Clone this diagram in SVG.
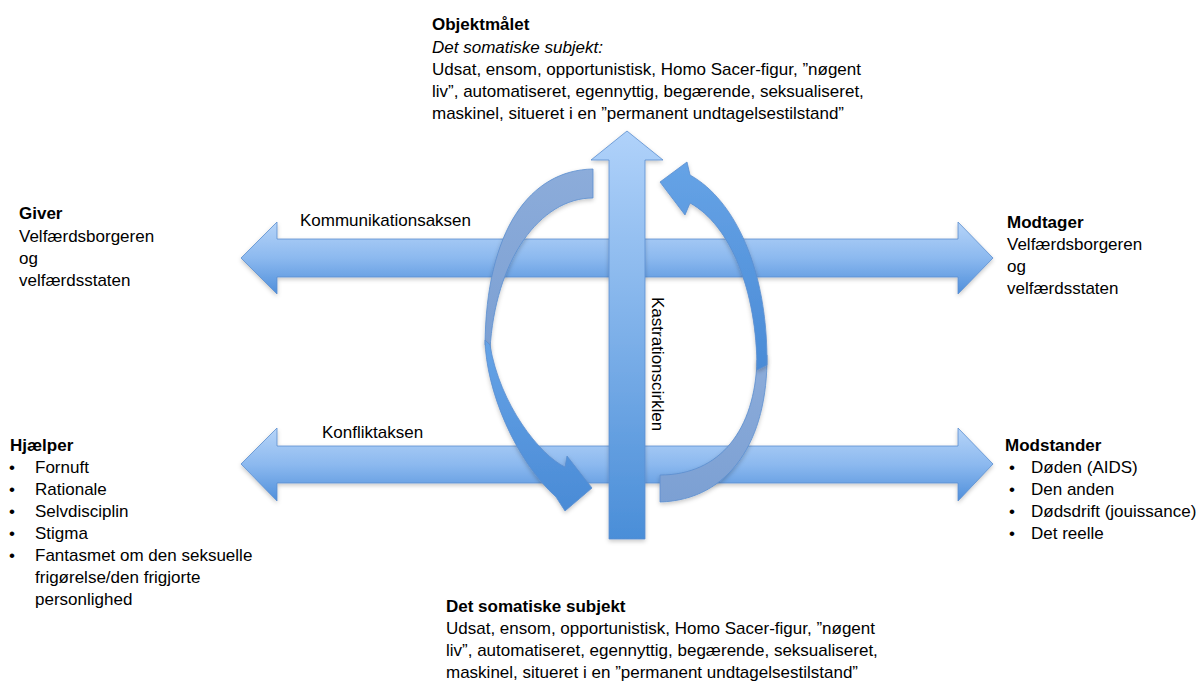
<svg xmlns="http://www.w3.org/2000/svg" width="1196" height="682" viewBox="0 0 1196 682">
<style>
  text { font-family: "Liberation Sans", Arial, sans-serif; font-size: 17px; fill: #000; }
  .b { font-weight: bold; }
  .i { font-style: italic; }
  .arrow { stroke: #5a8ecf; stroke-width: 0.8; filter: url(#sh); }
</style>
<defs>
  <linearGradient id="hg" x1="0" y1="0" x2="0" y2="1">
    <stop offset="0" stop-color="#b6d4f8"/>
    <stop offset="0.5" stop-color="#8cb9ef"/>
    <stop offset="1" stop-color="#4f8fdb"/>
  </linearGradient>
  <linearGradient id="vg" x1="0" y1="0" x2="0" y2="1">
    <stop offset="0" stop-color="#b0d2fa"/>
    <stop offset="1" stop-color="#4a8ed8"/>
  </linearGradient>
  <linearGradient id="fg" x1="0" y1="0" x2="0" y2="1">
    <stop offset="0" stop-color="#66a3e6"/>
    <stop offset="1" stop-color="#4a8bd6"/>
  </linearGradient>
  <linearGradient id="bg" x1="0" y1="0" x2="0" y2="1">
    <stop offset="0" stop-color="#8cacda"/>
    <stop offset="1" stop-color="#7ca0d3"/>
  </linearGradient>
  <filter id="sh" x="-10%" y="-10%" width="120%" height="130%">
    <feDropShadow dx="0" dy="2" stdDeviation="2" flood-color="#000" flood-opacity="0.22"/>
  </filter>
</defs>

<g id="connectors">
  <path id="kommunikationsaksen" class="arrow" fill="url(#hg)" d="M241,258 L277,222 L277,239 L958,239 L958,222 L993,258 L958,294 L958,277 L277,277 L277,294 Z"/>
  <path id="konfliktaksen" class="arrow" fill="url(#hg)" d="M241,464 L277,428 L277,446 L958,446 L958,428 L993,464 L958,501 L958,483 L277,483 L277,501 Z"/>
  <g id="left-curve">
    <path class="arrow" fill="url(#bg)" d="M593,169 C530,170 486,230 485,345 L490,350 C495,260 540,198 593,198 Z"/>
    <path class="arrow" fill="url(#fg)" d="M485,340 C486,390 515,460 556,497 L565,511 L592,488 L567,456 L565,467 C540,455 500,405 490,345 Z"/>
  </g>
  <g id="right-curve">
    <path class="arrow" fill="url(#bg)" d="M767,355 C768,440 730,500 660,502 L660,475 C720,475 755,430 757,360 Z"/>
    <path class="arrow" fill="url(#fg)" d="M767,365 C768,270 735,200 690,175 L687,162 L660,182 L685,215 L690,203 C730,225 757,290 757,370 Z"/>
  </g>
  <path id="kastration" class="arrow" fill="url(#vg)" d="M627,131 L663,160 L645,160 L645,539 L609,539 L609,160 L591,160 Z"/>
  <text x="300" y="226">Kommunikationsaksen</text>
  <text x="322" y="438">Konfliktaksen</text>
  <text transform="translate(652,297) rotate(90)">Kastrationscirklen</text>
</g>

<g id="objektmaalet">
  <text class="b" x="432" y="30">Objektmålet</text>
  <text class="i" x="432" y="53">Det somatiske subjekt:</text>
  <text x="432" y="75">Udsat, ensom, opportunistisk, Homo Sacer-figur, ”nøgent</text>
  <text x="432" y="97">liv”, automatiseret, egennyttig, begærende, seksualiseret,</text>
  <text x="432" y="119">maskinel, situeret i en ”permanent undtagelsestilstand”</text>
</g>

<g id="giver">
  <text class="b" x="19" y="219">Giver</text>
  <text x="19" y="242">Velfærdsborgeren</text>
  <text x="19" y="264">og</text>
  <text x="19" y="286">velfærdsstaten</text>
</g>

<g id="modtager">
  <text class="b" x="1007" y="228">Modtager</text>
  <text x="1007" y="250">Velfærdsborgeren</text>
  <text x="1007" y="272">og</text>
  <text x="1007" y="294">velfærdsstaten</text>
</g>

<g id="hjaelper">
  <text class="b" x="10" y="451">Hjælper</text>
  <text x="9" y="473">•</text><text x="35" y="473">Fornuft</text>
  <text x="9" y="495">•</text><text x="35" y="495">Rationale</text>
  <text x="9" y="517">•</text><text x="35" y="517">Selvdisciplin</text>
  <text x="9" y="539">•</text><text x="35" y="539">Stigma</text>
  <text x="9" y="561">•</text><text x="35" y="561">Fantasmet om den seksuelle</text>
  <text x="35" y="583">frigørelse/den frigjorte</text>
  <text x="35" y="605">personlighed</text>
</g>

<g id="modstander">
  <text class="b" x="1005" y="451">Modstander</text>
  <text x="1009" y="473">•</text><text x="1031" y="473">Døden (AIDS)</text>
  <text x="1009" y="495">•</text><text x="1031" y="495">Den anden</text>
  <text x="1009" y="517">•</text><text x="1031" y="517">Dødsdrift (jouissance)</text>
  <text x="1009" y="539">•</text><text x="1031" y="539">Det reelle</text>
</g>

<g id="det-somatiske-subjekt">
  <text class="b" x="446" y="612">Det somatiske subjekt</text>
  <text x="446" y="634">Udsat, ensom, opportunistisk, Homo Sacer-figur, ”nøgent</text>
  <text x="446" y="656">liv”, automatiseret, egennyttig, begærende, seksualiseret,</text>
  <text x="446" y="678">maskinel, situeret i en ”permanent undtagelsestilstand”</text>
</g>
</svg>
